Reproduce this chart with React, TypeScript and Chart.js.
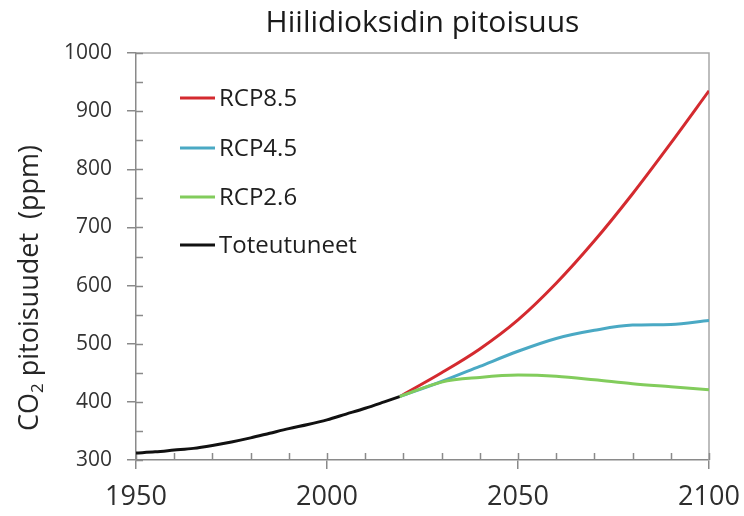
import React, { useEffect, useRef } from "react";
import { Chart, registerables } from "chart.js";

Chart.register(...registerables);

const titleText = "Hiilidioksidin pitoisuus";
const yTitleMain = "CO";
const yTitleSub = "2";
const yTitleRest = " pitoisuudet  (ppm)";

const histYears = [1950, 1955, 1960, 1965, 1970, 1975, 1980, 1985, 1990, 1995, 2000, 2005, 2010, 2015, 2019];
const histValues = [312, 314, 317, 320, 325, 331, 338, 346, 354, 361, 369, 379, 389, 400, 409];

const projYears = [2019, 2030, 2040, 2050, 2060, 2070, 2080, 2090, 2100];
const rcp85 = [409, 450, 491, 541, 604, 677, 758, 845, 935];
const rcp45 = [409, 435, 461, 487, 509, 523, 532, 533, 540];
const rcp26 = [409, 434, 442, 446, 444, 438, 431, 426, 421];

const seriesNames = ["RCP8.5", "RCP4.5", "RCP2.6", "Toteutuneet"];
const seriesColors = ["#d42a2f", "#4aa9c4", "#82cc5c", "#111111"];

const xTickValues = [1950, 2000, 2050, 2100];
const yTickValues = [300, 400, 500, 600, 700, 800, 900, 1000];
const xMinorStep = 10;
const yMinorStep = 50;

const FONT = "'Open Sans', 'Noto Sans', sans-serif";

const pts = (xs: number[], ys: number[]) => xs.map((x, i) => ({ x, y: ys[i] }));

const decorPlugin = {
  id: "decor",
  beforeDatasetsDraw(chart: any) {
    const { ctx, chartArea } = chart;
    const { left, right, top, bottom } = chartArea;
    ctx.save();
    ctx.strokeStyle = "#a8a8a8";
    ctx.lineWidth = 1.5;
    ctx.beginPath();
    ctx.moveTo(left, top);
    ctx.lineTo(right, top);
    ctx.lineTo(right, bottom);
    ctx.stroke();
    ctx.strokeStyle = "#8a8a8a";
    ctx.lineWidth = 1.5;
    const xs = chart.scales.x;
    const ys = chart.scales.y;
    ctx.beginPath();
    for (let v = xs.min; v <= xs.max; v += xMinorStep) {
      const px = Math.round(xs.getPixelForValue(v)) + 0.5;
      ctx.moveTo(px, bottom);
      ctx.lineTo(px, bottom - 7);
    }
    for (let v = ys.min; v <= ys.max; v += yMinorStep) {
      const py = Math.round(ys.getPixelForValue(v)) + 0.5;
      ctx.moveTo(left, py);
      ctx.lineTo(left + 7, py);
    }
    ctx.stroke();
    ctx.restore();
  },
  afterDraw(chart: any) {
    const { ctx, chartArea } = chart;
    const { left, right } = chartArea;
    ctx.save();
    ctx.fillStyle = "#1a1a1a";
    ctx.font = `30px ${FONT}`;
    ctx.textAlign = "center";
    ctx.textBaseline = "middle";
    ctx.fillText(titleText, (left + right) / 2, 23);

    ctx.save();
    ctx.translate(30, 288);
    ctx.rotate(-Math.PI / 2);
    ctx.textAlign = "left";
    ctx.textBaseline = "middle";
    const bigFont = `27px ${FONT}`;
    const smallFont = `17px ${FONT}`;
    ctx.font = bigFont;
    const w1 = ctx.measureText(yTitleMain).width;
    const w3 = ctx.measureText(yTitleRest).width;
    ctx.font = smallFont;
    const w2 = ctx.measureText(yTitleSub).width;
    const total = w1 + w2 + w3;
    let cx = -total / 2;
    ctx.fillStyle = "#262626";
    ctx.font = bigFont;
    ctx.fillText(yTitleMain, cx, 0);
    cx += w1;
    ctx.font = smallFont;
    ctx.fillText(yTitleSub, cx, 8);
    cx += w2;
    ctx.font = bigFont;
    ctx.fillText(yTitleRest, cx, 0);
    ctx.restore();

    const lx0 = 180;
    const lx1 = 215;
    const ly = [98, 148, 197, 245];
    ctx.font = `24px ${FONT}`;
    ctx.textAlign = "left";
    ctx.textBaseline = "middle";
    seriesNames.forEach((name, k) => {
      ctx.strokeStyle = seriesColors[k];
      ctx.lineWidth = 3;
      ctx.beginPath();
      ctx.moveTo(lx0, ly[k]);
      ctx.lineTo(lx1, ly[k]);
      ctx.stroke();
      ctx.fillStyle = "#1e1e1e";
      ctx.fillText(name, 219, ly[k] + 1);
    });
    ctx.restore();
  },
};

export default function App() {
  const ref = useRef<HTMLCanvasElement>(null);
  useEffect(() => {
    document.body.style.margin = "0";
    const canvas = ref.current!;
    const chart = new Chart(canvas, {
      type: "line",
      data: {
        datasets: [
          { label: seriesNames[0], data: pts(projYears, rcp85), borderColor: seriesColors[0], order: 3 },
          { label: seriesNames[1], data: pts(projYears, rcp45), borderColor: seriesColors[1], order: 2 },
          { label: seriesNames[2], data: pts(projYears, rcp26), borderColor: seriesColors[2], order: 1 },
          { label: seriesNames[3], data: pts(histYears, histValues), borderColor: seriesColors[3], order: 0 },
        ].map((d) => ({
          ...d,
          borderWidth: 3,
          pointRadius: 0,
          fill: false,
          tension: 0.4,
          cubicInterpolationMode: "monotone" as const,
        })),
      },
      options: {
        responsive: false,
        animation: false,
        layout: { padding: { left: 0, top: 53, right: 35, bottom: 0 } },
        plugins: { legend: { display: false }, title: { display: false }, tooltip: { enabled: false } },
        scales: {
          x: {
            type: "linear",
            min: 1950,
            max: 2100,
            afterBuildTicks: (s: any) => {
              s.ticks = xTickValues.map((v) => ({ value: v }));
            },
            afterFit: (s: any) => {
              s.height = 56;
              s.paddingLeft = 0;
              s.paddingRight = 0;
            },
            ticks: {
              color: "#2e2e2e",
              font: { family: FONT, size: 27 },
              padding: 12,
              maxRotation: 0,
              autoSkip: false,
              callback: (v: any) => String(v),
            },
            grid: { drawOnChartArea: false, drawTicks: true, tickLength: 9, color: "#8a8a8a", lineWidth: 1.5 },
            border: { color: "#8a8a8a", width: 1.5 },
          },
          y: {
            type: "linear",
            min: 300,
            max: 1000,
            afterBuildTicks: (s: any) => {
              s.ticks = yTickValues.map((v) => ({ value: v }));
            },
            afterFit: (s: any) => {
              s.width = 136;
              s.paddingTop = 0;
              s.paddingBottom = 0;
            },
            ticks: {
              color: "#333",
              font: { family: FONT, size: 21 },
              padding: 15,
              autoSkip: false,
              callback: (v: any) => String(v),
            },
            grid: { drawOnChartArea: false, drawTicks: true, tickLength: 9, color: "#8a8a8a", lineWidth: 1.5 },
            border: { color: "#8a8a8a", width: 1.5 },
          },
        },
      },
      plugins: [decorPlugin],
    });
    return () => chart.destroy();
  }, []);
  return (
    <div style={{ width: 744, height: 516 }}>
      <canvas ref={ref} width={744} height={516} style={{ display: "block" }} />
    </div>
  );
}
